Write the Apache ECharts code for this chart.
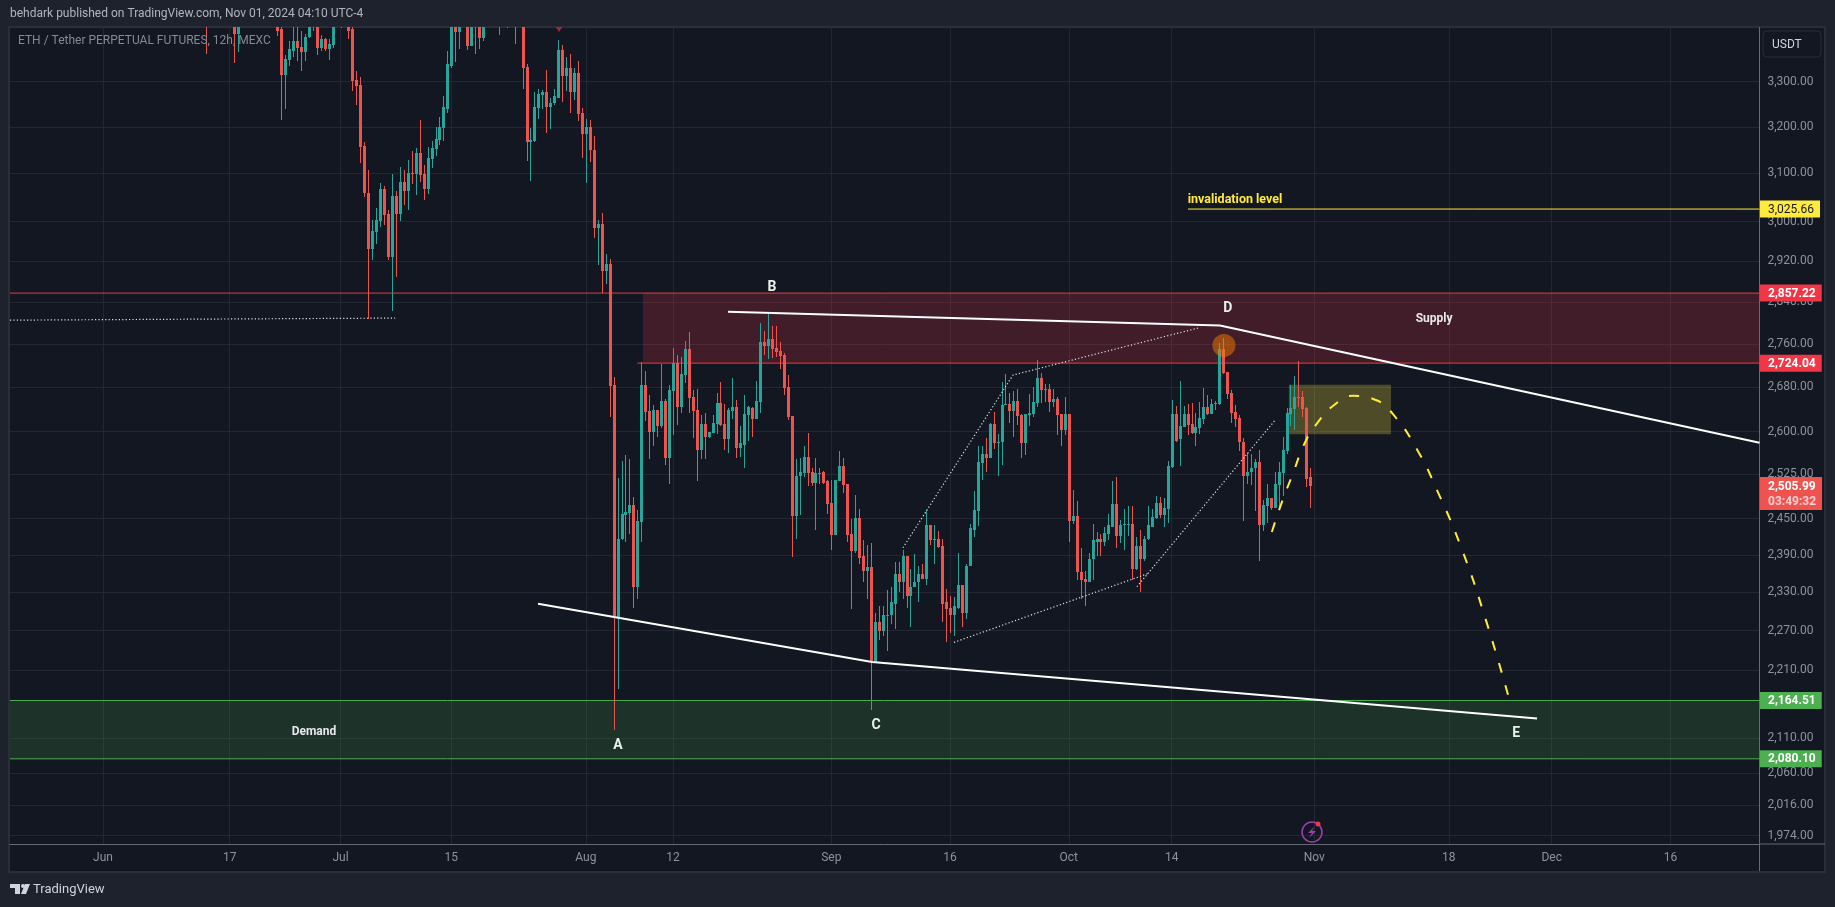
<!DOCTYPE html>
<html><head><meta charset="utf-8"><title>ETH / Tether 12h</title>
<style>html,body{margin:0;padding:0;background:#1E222D;overflow:hidden}#c{width:1835px;height:907px}</style>
<script src="https://cdn.jsdelivr.net/npm/echarts@6/dist/echarts.min.js"></script></head>
<body><div id="c"></div>
<script>
// ---------- axis data ----------
const barCount = 442;                 // 12h bars across the pane
const firstBarUtc = Date.UTC(2024, 4, 20, 12);
const categories = [];
for (let i = 0; i < barCount; i++) categories.push(new Date(firstBarUtc + i * 43200000).toISOString().slice(0, 16));
const tickDates = ['2024-06-01','2024-06-17','2024-07-01','2024-07-15','2024-08-01','2024-08-12','2024-09-01','2024-09-16','2024-10-01','2024-10-14','2024-11-01','2024-11-18','2024-12-01','2024-12-16'];
const tickLabels = ['Jun','17','Jul','15','Aug','12','Sep','16','Oct','14','Nov','18','Dec','16'];
const priceTicks = [3300,3200,3100,3000,2920,2840,2760,2680,2600,2525,2450,2390,2330,2270,2210,2110,2060,2016,1974];
const priceMin = 1962.8, priceMax = 3425.4;

// ---------- candles, [open, close, low, high]; first row is bar 49 ----------
const firstCandleIndex = 49;
const candles = [
[3480,3440,3364,3500],[3470,3500,3450,3520],[3500,3480,3440,3530],[3480,3510,3455,3525],[3510,3490,3440,3540],[3490,3470,3435,3510],[3470,3450,3430,3490],
[3450,3409,3343,3470],[3409,3440,3368,3460],
[3440,3470,3430,3500],[3470,3500,3445,3530],[3500,3540,3480,3570],[3540,3580,3510,3610],[3580,3560,3530,3620],[3560,3590,3530,3630],[3590,3560,3520,3620],[3560,3540,3480,3600],[3540,3500,3450,3570],
[3440,3417,3405,3470],[3421,3316,3214,3445],[3316,3352,3240,3361],[3350,3375,3336,3393],[3370,3393,3357,3430],[3393,3377,3348,3430],[3379,3368,3325,3417],[3368,3402,3348,3410],[3402,3430,3400,3445],[3430,3450,3417,3470],
[3430,3377,3361,3450],[3377,3398,3370,3407],[3398,3375,3370,3400],[3375,3386,3350,3398],[3384,3430,3377,3450],[3430,3470,3428,3500],[3470,3450,3424,3490],[3450,3470,3430,3500],
[3445,3417,3398,3470],[3421,3302,3280,3430],[3304,3291,3249,3325],[3293,3157,3123,3311],[3159,3059,3051,3168],[3059,2944,2808,3108],[2944,2980,2922,3004],[2978,3004,2954,3027],[3002,3067,2988,3079],[3067,3013,2992,3073],
[3015,2928,2922,3023],[2928,3052,2823,3098],[3052,3015,2889,3063],[3015,3081,3002,3114],[3081,3063,3035,3108],[3063,3100,3023,3129],[3102,3098,3077,3148],[3098,3144,3054,3155],[3144,3096,3083,3216],[3098,3067,3045,3117],
[3067,3133,3056,3157],[3131,3155,3112,3170],[3152,3174,3138,3200],[3172,3200,3161,3222],[3197,3244,3170,3267],[3240,3339,3231,3370],[3336,3440,3332,3460],[3440,3414,3345,3470],[3414,3445,3375,3480],[3445,3490,3430,3520],
[3470,3382,3373,3500],[3382,3470,3382,3500],[3460,3427,3364,3490],[3450,3400,3375,3470],[3400,3450,3393,3480],[3450,3480,3430,3510],[3480,3500,3450,3530],[3500,3480,3440,3520],[3470,3490,3407,3510],[3490,3470,3440,3510],
[3470,3460,3424,3490],[3460,3480,3435,3500],[3480,3450,3386,3500],[3450,3460,3430,3490],[3460,3332,3284,3480],[3334,3168,3127,3341],[3168,3172,3085,3198],[3170,3244,3168,3276],[3242,3273,3218,3284],[3271,3276,3240,3282],
[3276,3244,3187,3327],[3244,3253,3196,3264],[3253,3267,3249,3284],[3264,3373,3264,3396],[3373,3314,3255,3384],[3314,3332,3280,3355],[3332,3276,3231,3364],[3276,3320,3260,3332],[3320,3229,3212,3348],[3231,3185,3133,3242],
[3185,3200,3079,3218],[3200,3150,3125,3216],[3150,2986,2966,3180],[2986,2996,2912,3004],[2996,2900,2858,3017],[2900,2914,2875,2934],[2914,2682,2626,2924],[2684,2290,2121,2699],[2289,2417,2182,2519],[2416,2458,2414,2548],
[2456,2461,2412,2559],[2460,2473,2424,2551],[2473,2339,2306,2486],[2339,2446,2319,2465],[2444,2684,2411,2726],[2684,2635,2619,2710],[2637,2599,2552,2665],[2599,2638,2575,2647],[2638,2610,2590,2638],[2610,2654,2606,2722],
[2654,2554,2541,2658],[2554,2674,2509,2684],[2672,2724,2593,2752],[2724,2644,2612,2739],[2644,2704,2633,2735],[2702,2750,2688,2765],[2750,2660,2633,2783],[2662,2637,2588,2675],[2638,2568,2514,2676],[2568,2613,2552,2629],
[2613,2591,2551,2633],[2591,2600,2588,2600],[2598,2615,2597,2629],[2613,2651,2595,2669],[2651,2611,2610,2689],[2613,2586,2568,2649],[2586,2638,2563,2642],[2637,2644,2622,2697],[2644,2571,2554,2656],[2571,2579,2556,2609],
[2577,2631,2536,2665],[2629,2644,2584,2645],[2642,2622,2591,2644],[2622,2654,2622,2691],[2652,2763,2633,2800],[2763,2756,2739,2785],[2756,2769,2731,2821],[2769,2750,2733,2793],[2752,2744,2735,2793],[2746,2737,2713,2763],
[2739,2678,2666,2742],[2680,2626,2620,2702],[2628,2455,2387,2628],[2455,2523,2417,2551],[2522,2529,2456,2554],[2527,2556,2521,2574],[2556,2527,2506,2597],[2529,2511,2506,2536],[2511,2527,2431,2554],[2527,2525,2509,2536],
[2529,2511,2509,2531],[2513,2475,2458,2516],[2477,2423,2398,2516],[2423,2516,2423,2516],[2514,2539,2514,2566],[2539,2507,2494,2554],[2509,2423,2412,2509],[2424,2396,2304,2450],[2396,2451,2393,2490],[2451,2386,2375,2467],
[2388,2365,2347,2414],[2365,2371,2319,2407],[2371,2222,2150,2409],[2222,2283,2221,2298],[2284,2270,2256,2309],[2270,2295,2262,2309],[2294,2295,2239,2333],[2294,2314,2281,2338],[2312,2359,2272,2379],[2359,2347,2330,2379],
[2347,2388,2319,2399],[2388,2325,2306,2388],[2325,2339,2276,2368],[2338,2347,2338,2391],[2346,2360,2314,2373],[2360,2352,2352,2375],[2352,2439,2341,2465],[2439,2414,2407,2439],[2416,2417,2375,2439],[2417,2404,2401,2429],
[2405,2312,2283,2417],[2314,2304,2252,2335],[2306,2294,2267,2325],[2294,2308,2262,2322],[2306,2341,2303,2393],[2341,2298,2275,2341],[2298,2373,2288,2375],[2372,2434,2372,2441],[2432,2465,2419,2496],[2463,2546,2438,2574],
[2544,2561,2516,2574],[2561,2554,2530,2588],[2554,2613,2554,2615],[2613,2579,2570,2635],[2581,2582,2523,2595],[2581,2648,2541,2689],[2648,2649,2648,2704],[2649,2637,2615,2669],[2637,2654,2591,2673],[2654,2628,2611,2676],
[2629,2579,2554,2631],[2579,2631,2559,2631],[2629,2633,2610,2667],[2631,2652,2626,2680],[2651,2697,2644,2730],[2697,2675,2651,2706],[2676,2675,2652,2685],[2676,2652,2635,2685],[2652,2658,2644,2676],[2658,2629,2593,2662],
[2631,2602,2575,2631],[2602,2631,2593,2662],[2631,2446,2412,2631],[2446,2455,2441,2499],[2455,2362,2350,2479],[2363,2350,2319,2401],[2352,2347,2308,2365],[2347,2384,2347,2393],[2383,2414,2350,2441],[2412,2416,2389,2428],
[2416,2412,2389,2424],[2412,2426,2405,2436],[2424,2439,2414,2458],[2437,2475,2436,2514],[2475,2421,2401,2521],[2421,2439,2409,2448],[2439,2441,2399,2467],[2440,2441,2422,2472],[2441,2368,2350,2472],[2368,2405,2366,2419],
[2405,2383,2330,2431],[2383,2417,2381,2421],[2416,2439,2414,2472],[2437,2453,2436,2467],[2451,2477,2450,2489],[2477,2456,2451,2487],[2456,2468,2436,2485],[2466,2539,2443,2549],[2538,2631,2536,2656],[2631,2584,2582,2645],
[2586,2609,2539,2691],[2608,2631,2608,2645],[2631,2611,2593,2649],[2613,2597,2595,2651],[2597,2608,2575,2633],[2606,2624,2595,2652],[2622,2644,2613,2678],[2644,2631,2629,2665],[2631,2649,2631,2658],[2649,2651,2638,2654],
[2649,2750,2647,2761],[2750,2706,2704,2772],[2708,2667,2658,2708],[2669,2633,2615,2675],[2635,2622,2608,2647],[2624,2581,2565,2629],[2582,2523,2446,2588],[2523,2530,2509,2563],[2530,2537,2507,2561],[2536,2546,2463,2551],
[2546,2439,2381,2568],[2439,2473,2429,2482],[2472,2484,2443,2509],[2484,2468,2465,2485],[2468,2509,2468,2529],[2507,2529,2470,2546],[2527,2568,2489,2591],[2566,2633,2561,2642],[2631,2642,2610,2684],[2640,2662,2602,2700],
[2662,2660,2644,2728],[2662,2640,2626,2673],[2642,2518,2504,2644],[2520,2505.99,2468,2536]
];

// ---------- drawings, points are [bar index, price] ----------
const upperTrend = [[180.9,2821],[305.2,2795],[441.5,2580]];
const lowerTrend = [[132.9,2312],[217.3,2222],[385.3,2138]];
const dottedLevel = [[-0.5,2805],[96.8,2809]];
const dottedUpper = [[225.1,2402],[252.9,2702],[300.2,2791]];
const dottedLower = [[238,2252],[287,2360]];
const dottedRise = [[284.2,2339],[319.1,2620]];
const projection = [[318.3,2428],[320.9,2479],[323.7,2528],[326.7,2581],[330,2617],[333.8,2646],[338.8,2664],[344.4,2657],[348.9,2631],[355,2568],[360.1,2497],[366.4,2398],[372.4,2286],[378.2,2168]];
const invalidationLine = [[297.1,3025.66],[441.5,3025.66]];
const supplyTopLine = [[-0.5,2857.22],[441.5,2857.22]];
const supplyBottomLine = [[158,2724.04],[441.5,2724.04]];
const demandTopLine = [[-0.5,2164.51],[441.5,2164.51]];
const demandBottomLine = [[-0.5,2080.10],[441.5,2080.10]];
const zoneRows = [[159.4,441.5,2724.04,2857.22],[-0.5,441.5,2080.10,2164.51],[322.6,348.4,2595,2684]];
const zoneFills = ['rgba(242,54,69,0.21)','rgba(76,175,80,0.18)','rgba(255,235,59,0.25)'];
const noteTexts = ['A','B','C','D','E','Supply','Demand','invalidation level'];
const notePoints = [[153.1,2099],[192,2868],[218.3,2128],[307.2,2828],[380,2116],[359.3,2807],[76.3,2119],[309,3044]];
const priceTags = [3025.66,2857.22,2724.04,2505.99,2164.51,2080.10];
const countdown = '03:49:32';
const tagFills = ['#FFEB3B','#F23645','#F23645','#EF5350','#4CAF50','#4CAF50'];
const circleMark = [[306.2,2757]];
const arrowMark = [[138.2,3421]];

// ---------- build ----------
const FONT = 'Roboto';
const GRID = '#232733';
const AX = '#676a75';
const UP = '#26A69A', DOWN = '#EF5350';
const fmt = v => Number(v).toLocaleString('en-US',{minimumFractionDigits:2,maximumFractionDigits:2});
const tickSet = new Map(tickDates.map((d,i)=>[d+'T00:00',tickLabels[i]]));
const isTick = (i,v)=>tickSet.has(v);
const candleRows = candles.map((r,k)=>[k+firstCandleIndex].concat(r));
const line = (name,data,style,extra)=>Object.assign({type:'line',name,xAxisIndex:1,yAxisIndex:0,data,showSymbol:false,silent:true,z:6,lineStyle:style},extra||{});
const dotted = {color:'#e0e3eb',width:1.2,type:[1.2,2.2]};

// Each candle is placed by the axes; only its edges are snapped to whole pixels.
function renderCandle(p, api){
  const i=api.value(0), o=api.value(1), c=api.value(2), l=api.value(3), h=api.value(4);
  const cx=Math.round(api.coord([i,o])[0]);
  const yo=Math.round(api.coord([i,o])[1]), yc=Math.round(api.coord([i,c])[1]);
  const yl=Math.round(api.coord([i,l])[1]), yh=Math.round(api.coord([i,h])[1]);
  const top=Math.min(yo,yc), bot=Math.max(yo,yc), col=c>=o?UP:DOWN;
  return {type:'group',children:[
    {type:'rect',shape:{x:cx,y:yh,width:1,height:Math.max(yl-yh,1)},style:{fill:col}},
    {type:'rect',shape:{x:cx-1,y:top,width:3,height:Math.max(bot-top,1)},style:{fill:col}}
  ]};
}

const option = {
  backgroundColor:'#1E222D', animation:false, textStyle:{fontFamily:FONT},
  grid:{left:10,right:75.5,top:27,bottom:63},
  xAxis:[
    {type:'category',data:categories,boundaryGap:true,
     axisLine:{show:true,lineStyle:{color:AX,width:1}},
     axisTick:{show:false},
     axisLabel:{interval:isTick,formatter:v=>tickSet.get(v)||'',color:'#8f929c',fontSize:12,fontFamily:FONT,margin:8},
     splitLine:{show:true,interval:isTick,alignWithLabel:true,lineStyle:{color:GRID,width:1}}},
    {type:'value',min:-0.5,max:441.5,show:false,splitLine:{show:false},axisLine:{show:false}}
  ],
  yAxis:[{type:'log',logBase:10,position:'right',min:priceMin,max:priceMax,
     axisLine:{show:true,onZero:false,lineStyle:{color:AX,width:1}},
     axisTick:{show:false,customValues:priceTicks},
     axisLabel:{customValues:priceTicks,formatter:fmt,color:'#8f929c',fontSize:12,fontFamily:FONT,margin:8,hideOverlap:false},
     splitLine:{show:true,lineStyle:{color:GRID,width:1}},minorTick:{show:false},minorSplitLine:{show:false}}],
  series:[
    {type:'custom',name:'zones',xAxisIndex:1,yAxisIndex:0,z:1,silent:true,data:zoneRows,encode:{x:[0,1],y:[2,3]},
     renderItem:(p,api)=>{const a=api.coord([api.value(0),api.value(3)]),b=api.coord([api.value(1),api.value(2)]);
       return {type:'rect',shape:{x:a[0],y:a[1],width:b[0]-a[0],height:b[1]-a[1]},style:{fill:zoneFills[p.dataIndex]}};}},
    line('supply top',supplyTopLine,{color:'#F23645',width:1},{z:2}),
    line('supply bottom',supplyBottomLine,{color:'#F23645',width:1},{z:2}),
    line('demand top',demandTopLine,{color:'#4CAF50',width:1},{z:2}),
    line('demand bottom',demandBottomLine,{color:'#4CAF50',width:1},{z:2}),
    {type:'custom',name:'ETHUSDT',xAxisIndex:1,yAxisIndex:0,z:3,silent:true,clip:true,data:candleRows,
     encode:{x:0,y:[1,2,3,4]},renderItem:renderCandle},
    line('upper trend',upperTrend,{color:'#ffffff',width:2}),
    line('lower trend',lowerTrend,{color:'#ffffff',width:2}),
    line('dotted level',dottedLevel,dotted),
    line('dotted upper',dottedUpper,dotted),
    line('dotted lower',dottedLower,dotted),
    line('dotted rise',dottedRise,dotted),
    line('invalidation',invalidationLine,{color:'#FFEB3B',width:1}),
    line('projection',projection,{color:'#FFEB3B',width:2,type:[10,13]},{smooth:0.5}),
    {type:'scatter',name:'circle',xAxisIndex:1,yAxisIndex:0,z:5,silent:true,data:circleMark,symbolSize:23,itemStyle:{color:'rgba(245,124,0,0.5)',opacity:1}},
    {type:'scatter',name:'arrow',xAxisIndex:1,yAxisIndex:0,z:5,silent:true,data:arrowMark,symbol:'triangle',symbolRotate:180,symbolSize:[8,6],itemStyle:{color:'#a8243a',opacity:1}},
    {type:'scatter',name:'notes',xAxisIndex:1,yAxisIndex:0,z:8,silent:true,symbolSize:1,itemStyle:{color:'rgba(0,0,0,0)',opacity:1},
     data:notePoints.map((p,i)=>{const t=noteTexts[i],big=t.length===1,inv=t.startsWith('inv');
       return {value:p,label:{show:true,position:'inside',formatter:t,fontFamily:FONT,fontWeight:'bold',fontSize:big?14:(inv?12.5:12),color:inv?'#FFEB3B':(big?'#e8f2e8':'#e8e8ec')}};})},
    {type:'scatter',name:'price tags',xAxisIndex:1,yAxisIndex:0,z:20,silent:true,symbolSize:1,itemStyle:{color:'rgba(0,0,0,0)',opacity:1},clip:false,
     data:priceTags.map((v,i)=>{const dark=i===0,two=v===2505.99;
       return {value:[441.5,v],label:{show:true,position:'right',distance:0,offset:two?[0,8]:[0,0],
         formatter:two?'{a|'+fmt(v)+'}\n{b|'+countdown+'}':fmt(v),
         backgroundColor:tagFills[i],color:dark?'#131722':'#fff',fontFamily:FONT,fontSize:12,fontWeight:dark?'normal':'bold',
         padding:two?[2,6,1,8]:[3,6,2,8],lineHeight:two?15:12,
         rich:{a:{color:'#fff',fontWeight:'bold',fontSize:12,fontFamily:FONT,lineHeight:15},b:{color:'#fbd0d0',fontSize:12,fontFamily:FONT,lineHeight:15}}}};})}
  ],
  graphic:[
    {type:'rect',z:-10,shape:{x:9,y:27,width:1816,height:845},style:{fill:'#131722',stroke:'#2A2E39',lineWidth:2},silent:true},
    {type:'rect',z:10,shape:{x:0,y:0,width:1835,height:26},style:{fill:'#1E222D'},silent:true},
    {type:'line',z:10,shape:{x1:9,y1:26.5,x2:1825,y2:26.5},style:{stroke:'#2A2E39',lineWidth:1},silent:true},
    {type:'line',z:2,shape:{x1:1759.5,y1:844,x2:1825,y2:844},style:{stroke:AX,lineWidth:1},silent:true},
    {type:'line',z:2,shape:{x1:1759.5,y1:844,x2:1759.5,y2:871},style:{stroke:AX,lineWidth:1},silent:true},
    {type:'rect',z:3,shape:{x:1763,y:31,width:58,height:26,r:4},style:{fill:'#131722',stroke:'#2A2E39',lineWidth:1},silent:true},
    {type:'text',z:4,x:1772,y:39,style:{text:'USDT',fill:'#d1d4dc',font:'12px Roboto'},silent:true},
    {type:'text',z:11,x:10,y:8,style:{text:'behdark published on TradingView.com, Nov 01, 2024 04:10 UTC-4',fill:'#b2b5be',font:'12px Roboto'},silent:true},
    {type:'text',z:9,x:18,y:35,style:{text:'ETH / Tether PERPETUAL FUTURES, 12h, MEXC',fill:'#868993',font:'12px Roboto'},silent:true},
    {type:'text',z:4,x:33,y:883,style:{text:'TradingView',fill:'#d1d4dc',font:'13px Roboto'},silent:true},
    {type:'polygon',z:4,shape:{points:[[10,884],[20,884],[20,894],[15,894],[15,888],[10,888]]},style:{fill:'#d1d4dc'},silent:true},
    {type:'circle',z:4,shape:{cx:23,cy:886,r:2},style:{fill:'#d1d4dc'},silent:true},
    {type:'polygon',z:4,shape:{points:[[25,884],[30,884],[26,894],[21,894]]},style:{fill:'#d1d4dc'},silent:true},
    {type:'circle',z:9,shape:{cx:1312,cy:832,r:10},style:{fill:'none',stroke:'#9c3fb0',lineWidth:1.5},silent:true},
    {type:'polygon',z:9,shape:{points:[[1315,826],[1308,833],[1312,833],[1309,838],[1316,831],[1312,831]]},style:{fill:'#9c3fb0'},silent:true},
    {type:'circle',z:9,shape:{cx:1318,cy:824,r:2.5},style:{fill:'#F23645'},silent:true}
  ]
};
const chart = echarts.init(document.getElementById('c'),null,{renderer:'canvas',width:1835,height:907});
chart.setOption(option);
</script></body></html>
